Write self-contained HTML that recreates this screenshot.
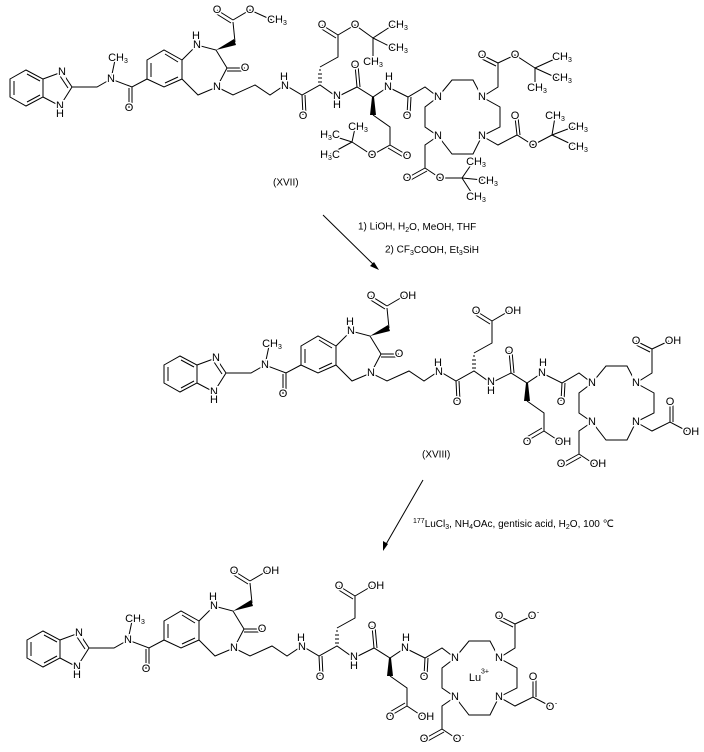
<!DOCTYPE html>
<html><head><meta charset="utf-8"><style>
html,body{margin:0;padding:0;background:#fff}
svg{display:block}
.b line,.b polyline,.b polygon{stroke:#000;stroke-width:1;fill:none}
.b polygon.w{fill:#000;stroke:none}
text{font-family:"Liberation Sans",Arial,sans-serif;font-size:11px;fill:#000;stroke:#fff;stroke-width:3px;paint-order:stroke;text-anchor:middle;dominant-baseline:central}
text.r{text-anchor:start;stroke:none;font-size:10px}
.s{font-size:7px}
</style></head><body>
<svg width="704" height="752" viewBox="0 0 704 752" xmlns="http://www.w3.org/2000/svg">

<!-- ===== Molecule 1 ===== -->
<g class="b" transform="translate(0,0)">
<polygon points="10,79 26,70 43,79 43,97 26,106 10,97"/>
<line x1="14" y1="95" x2="14" y2="81"/><line x1="27" y1="74" x2="40" y2="81"/><line x1="27" y1="102" x2="40" y2="95"/>
<polyline points="43,79 62,72 72,87 60,106 43,97"/><line x1="60" y1="76" x2="68" y2="88"/>
<polyline points="72,87 97,87 111,79 132,87 147,79"/><line x1="111" y1="79" x2="115" y2="60"/>
<line x1="132" y1="87" x2="132" y2="108"/><line x1="129" y1="88" x2="129" y2="108"/>
<polygon points="147,60 164,50 182,60 182,79 164,87 147,79"/>
<line x1="151" y1="63" x2="151" y2="77"/><line x1="165" y1="54" x2="178" y2="62"/><line x1="165" y1="83" x2="178" y2="77"/>
<polyline points="182,60 197,45 216,50 227,68 217,87 198,95 182,79"/>
<line x1="227" y1="68" x2="245" y2="68"/><line x1="227" y1="71" x2="245" y2="71"/>
<polygon class="w" points="216,50 234,39 236,45"/>
<line x1="235" y1="42" x2="233" y2="22"/>
<polyline points="217,87 233,95 255,85 270,95 285,85 302,95 320,85 337,97 357,87 373,97 388,87 408,97 425,87 438,97"/>
<line x1="302" y1="95" x2="303" y2="115"/><line x1="305" y1="95" x2="306" y2="115"/>
<line x1="357" y1="87" x2="355" y2="65"/><line x1="360" y1="87" x2="358" y2="65"/>
<line x1="408" y1="97" x2="407" y2="115"/><line x1="411" y1="97" x2="410" y2="115"/>
<line x1="318" y1="82" x2="322" y2="82"/><line x1="318" y1="78" x2="322" y2="78"/><line x1="318" y1="74" x2="322" y2="74"/><line x1="319" y1="70" x2="321" y2="70"/>
<polyline points="320,67 338,57 338,35"/>
<polygon class="w" points="372,97 374,97 376,115 370,115"/>
<polyline points="373,115 390,127 390,145"/>
<polygon points="438,97 452,80 473,80 482,97 500,107 500,127 482,136 473,154 452,154 438,136 425,127 425,107"/>
<line x1="233" y1="20" x2="217" y2="10"/><line x1="231" y1="23" x2="215" y2="13"/><polyline points="233,20 250,10 272,20"/>
<line x1="338" y1="35" x2="322" y2="25"/><line x1="336" y1="38" x2="320" y2="28"/><polyline points="338,35 355,25 373,38"/>
<line x1="373" y1="38" x2="393" y2="25"/><line x1="373" y1="38" x2="393" y2="48"/><line x1="373" y1="38" x2="373" y2="60"/>
<line x1="390" y1="145" x2="407" y2="155"/><line x1="388" y1="148" x2="405" y2="158"/><polyline points="390,145 372,155 352,142"/>
<line x1="352" y1="142" x2="355" y2="128"/><line x1="352" y1="142" x2="330" y2="135"/><line x1="352" y1="142" x2="330" y2="154"/>
<polyline points="482,97 498,87 498,63"/><line x1="498" y1="63" x2="482" y2="55"/><line x1="496" y1="66" x2="480" y2="58"/><polyline points="498,63 515,55 535,68"/>
<line x1="535" y1="68" x2="557" y2="58"/><line x1="535" y1="68" x2="557" y2="78"/><line x1="535" y1="68" x2="535" y2="87"/>
<polyline points="482,136 498,145 517,135 533,145 552,135"/><line x1="517" y1="135" x2="515" y2="117"/><line x1="520" y1="135" x2="518" y2="117"/>
<line x1="552" y1="135" x2="555" y2="117"/><line x1="552" y1="135" x2="573" y2="127"/><line x1="552" y1="135" x2="573" y2="145"/>
<polyline points="438,136 425,145 425,168"/><line x1="425" y1="168" x2="407" y2="178"/><line x1="427" y1="171" x2="409" y2="181"/>
<polyline points="425,168 440,178 462,178"/><line x1="462" y1="178" x2="473" y2="162"/><line x1="462" y1="178" x2="483" y2="180"/><line x1="462" y1="178" x2="473" y2="195"/>
</g>
<g>
<text x="62" y="72">N</text><text x="60" y="106">N</text><text x="60" y="114">H</text>
<text x="111" y="79">N</text><text x="118" y="58">CH<tspan class="s" dy="3">3</tspan></text>
<text x="129" y="108">O</text><text x="197" y="45">N</text><text x="196" y="36">H</text>
<text x="245" y="68">O</text><text x="217" y="87">N</text>
<text x="217" y="10">O</text><text x="250" y="10">O</text><text x="277" y="20">CH<tspan class="s" dy="3">3</tspan></text>
<text x="285" y="86">N</text><text x="284" y="77">H</text><text x="303" y="116">O</text>
<text x="322" y="25">O</text><text x="355" y="25">O</text>
<text x="398" y="25">CH<tspan class="s" dy="3">3</tspan></text><text x="398" y="48">CH<tspan class="s" dy="3">3</tspan></text><text x="373" y="62">CH<tspan class="s" dy="3">3</tspan></text>
<text x="337" y="96">N</text><text x="337" y="105">H</text><text x="355" y="65">O</text>
<text x="388" y="87">N</text><text x="389" y="77">H</text><text x="407" y="116">O</text>
<text x="407" y="156">O</text><text x="372" y="155">O</text>
<text x="358" y="127">CH<tspan class="s" dy="3">3</tspan></text><text x="330" y="135">H<tspan class="s" dy="3">3</tspan><tspan dy="-3">C</tspan></text><text x="330" y="155">H<tspan class="s" dy="3">3</tspan><tspan dy="-3">C</tspan></text>
<text x="438" y="97">N</text><text x="482" y="97">N</text><text x="482" y="136">N</text><text x="438" y="136">N</text>
<text x="482" y="55">O</text><text x="515" y="55">O</text>
<text x="562" y="57">CH<tspan class="s" dy="3">3</tspan></text><text x="562" y="78">CH<tspan class="s" dy="3">3</tspan></text><text x="537" y="88">CH<tspan class="s" dy="3">3</tspan></text>
<text x="515" y="116">O</text><text x="533" y="145">O</text>
<text x="555" y="116">CH<tspan class="s" dy="3">3</tspan></text><text x="578" y="127">CH<tspan class="s" dy="3">3</tspan></text><text x="578" y="147">CH<tspan class="s" dy="3">3</tspan></text>
<text x="407" y="178">O</text><text x="440" y="178">O</text>
<text x="476" y="162">CH<tspan class="s" dy="3">3</tspan></text><text x="488" y="181">CH<tspan class="s" dy="3">3</tspan></text><text x="476" y="197">CH<tspan class="s" dy="3">3</tspan></text>
</g>
<text class="r" x="273" y="183">(XVII)</text>

<!-- arrow 1 -->
<line x1="323" y1="215" x2="376" y2="267" stroke="#000" stroke-width="1"/>
<polygon points="379,270 370,266 374,262" fill="#000"/>
<text class="r" x="358" y="227">1) LiOH, H<tspan class="s" dy="3">2</tspan><tspan dy="-3">O, MeOH, THF</tspan></text>
<text class="r" x="385" y="250">2) CF<tspan class="s" dy="3">3</tspan><tspan dy="-3">COOH, Et</tspan><tspan class="s" dy="3">3</tspan><tspan dy="-3">SiH</tspan></text>

<!-- ===== Molecule 2 ===== -->
<g transform="translate(154,286)">
<g class="b">
<polygon points="10,79 26,70 43,79 43,97 26,106 10,97"/>
<line x1="14" y1="95" x2="14" y2="81"/><line x1="27" y1="74" x2="40" y2="81"/><line x1="27" y1="102" x2="40" y2="95"/>
<polyline points="43,79 62,72 72,87 60,106 43,97"/><line x1="60" y1="76" x2="68" y2="88"/>
<polyline points="72,87 97,87 111,79 132,87 147,79"/><line x1="111" y1="79" x2="115" y2="60"/>
<line x1="132" y1="87" x2="132" y2="108"/><line x1="129" y1="88" x2="129" y2="108"/>
<polygon points="147,60 164,50 182,60 182,79 164,87 147,79"/>
<line x1="151" y1="63" x2="151" y2="77"/><line x1="165" y1="54" x2="178" y2="62"/><line x1="165" y1="83" x2="178" y2="77"/>
<polyline points="182,60 197,45 216,50 227,68 217,87 198,95 182,79"/>
<line x1="227" y1="68" x2="245" y2="68"/><line x1="227" y1="71" x2="245" y2="71"/>
<polygon class="w" points="216,50 234,39 236,45"/>
<line x1="235" y1="42" x2="233" y2="22"/>
<polyline points="217,87 233,95 255,85 270,95 285,85 302,95 320,85 337,97 357,87 373,97 388,87 408,97 425,87 438,97"/>
<line x1="302" y1="95" x2="303" y2="115"/><line x1="305" y1="95" x2="306" y2="115"/>
<line x1="357" y1="87" x2="355" y2="65"/><line x1="360" y1="87" x2="358" y2="65"/>
<line x1="408" y1="97" x2="407" y2="115"/><line x1="411" y1="97" x2="410" y2="115"/>
<line x1="318" y1="82" x2="322" y2="82"/><line x1="318" y1="78" x2="322" y2="78"/><line x1="318" y1="74" x2="322" y2="74"/><line x1="319" y1="70" x2="321" y2="70"/>
<polyline points="320,67 338,57 338,35"/>
<polygon class="w" points="372,97 374,97 376,115 370,115"/>
<polyline points="373,115 390,127 390,145"/>
<polygon points="438,97 452,80 473,80 482,97 500,107 500,127 482,136 473,154 452,154 438,136 425,127 425,107"/>
<line x1="233" y1="20" x2="217" y2="10"/><line x1="231" y1="23" x2="215" y2="13"/><line x1="233" y1="20" x2="250" y2="10"/>
<line x1="338" y1="35" x2="322" y2="25"/><line x1="336" y1="38" x2="320" y2="28"/><line x1="338" y1="35" x2="355" y2="25"/>
<line x1="390" y1="145" x2="373" y2="155"/><line x1="388" y1="142" x2="371" y2="152"/><line x1="390" y1="145" x2="405" y2="155"/>
<polyline points="482,97 498,87 498,63"/><line x1="498" y1="63" x2="482" y2="55"/><line x1="496" y1="66" x2="480" y2="58"/><line x1="498" y1="63" x2="515" y2="55"/>
<polyline points="482,136 498,145 516,136 533,145"/><line x1="516" y1="136" x2="516" y2="117"/><line x1="519" y1="136" x2="519" y2="117"/>
<polyline points="438,136 425,145 425,168"/><line x1="425" y1="168" x2="407" y2="178"/><line x1="427" y1="171" x2="409" y2="181"/><line x1="425" y1="168" x2="440" y2="178"/>
</g>
<text x="62" y="72">N</text><text x="60" y="106">N</text><text x="60" y="114">H</text>
<text x="111" y="79">N</text><text x="118" y="58">CH<tspan class="s" dy="3">3</tspan></text>
<text x="129" y="108">O</text><text x="197" y="45">N</text><text x="196" y="36">H</text>
<text x="245" y="68">O</text><text x="217" y="87">N</text>
<text x="217" y="10">O</text><text x="254" y="10">OH</text>
<text x="285" y="86">N</text><text x="284" y="77">H</text><text x="303" y="116">O</text>
<text x="322" y="25">O</text><text x="359" y="25">OH</text>
<text x="337" y="96">N</text><text x="337" y="105">H</text><text x="355" y="65">O</text>
<text x="388" y="87">N</text><text x="389" y="77">H</text><text x="407" y="116">O</text>
<text x="373" y="156">O</text><text x="409" y="156">OH</text>
<text x="438" y="97">N</text><text x="482" y="97">N</text><text x="482" y="136">N</text><text x="438" y="136">N</text>
<text x="482" y="55">O</text><text x="519" y="55">OH</text>
<text x="516" y="116">O</text><text x="537" y="146">OH</text>
<text x="407" y="178">O</text><text x="444" y="178">OH</text>
</g>
<text class="r" x="422" y="455">(XVIII)</text>

<!-- arrow 2 -->
<line x1="423" y1="480" x2="385" y2="546" stroke="#000" stroke-width="1"/>
<polygon points="383,551 383,541 388,544" fill="#000"/>
<text class="r" x="413" y="524"><tspan class="s" dy="-3">177</tspan><tspan dy="3">LuCl</tspan><tspan class="s" dy="3">3</tspan><tspan dy="-3">, NH</tspan><tspan class="s" dy="3">4</tspan><tspan dy="-3">OAc, gentisic acid, H</tspan><tspan class="s" dy="3">2</tspan><tspan dy="-3">O, 100 ℃</tspan></text>

<!-- ===== Molecule 3 ===== -->
<g transform="translate(17,561)">
<g class="b">
<polygon points="10,79 26,70 43,79 43,97 26,106 10,97"/>
<line x1="14" y1="95" x2="14" y2="81"/><line x1="27" y1="74" x2="40" y2="81"/><line x1="27" y1="102" x2="40" y2="95"/>
<polyline points="43,79 62,72 72,87 60,106 43,97"/><line x1="60" y1="76" x2="68" y2="88"/>
<polyline points="72,87 97,87 111,79 132,87 147,79"/><line x1="111" y1="79" x2="115" y2="60"/>
<line x1="132" y1="87" x2="132" y2="108"/><line x1="129" y1="88" x2="129" y2="108"/>
<polygon points="147,60 164,50 182,60 182,79 164,87 147,79"/>
<line x1="151" y1="63" x2="151" y2="77"/><line x1="165" y1="54" x2="178" y2="62"/><line x1="165" y1="83" x2="178" y2="77"/>
<polyline points="182,60 197,45 216,50 227,68 217,87 198,95 182,79"/>
<line x1="227" y1="68" x2="245" y2="68"/><line x1="227" y1="71" x2="245" y2="71"/>
<polygon class="w" points="216,50 234,39 236,45"/>
<line x1="235" y1="42" x2="233" y2="22"/>
<polyline points="217,87 233,95 255,85 270,95 285,85 302,95 320,85 337,97 357,87 373,97 388,87 408,97 425,87 438,97"/>
<line x1="302" y1="95" x2="303" y2="115"/><line x1="305" y1="95" x2="306" y2="115"/>
<line x1="357" y1="87" x2="355" y2="65"/><line x1="360" y1="87" x2="358" y2="65"/>
<line x1="408" y1="97" x2="407" y2="115"/><line x1="411" y1="97" x2="410" y2="115"/>
<line x1="318" y1="82" x2="322" y2="82"/><line x1="318" y1="78" x2="322" y2="78"/><line x1="318" y1="74" x2="322" y2="74"/><line x1="319" y1="70" x2="321" y2="70"/>
<polyline points="320,67 338,57 338,35"/>
<polygon class="w" points="372,97 374,97 376,115 370,115"/>
<polyline points="373,115 390,127 390,145"/>
<polygon points="438,97 452,80 473,80 482,97 500,107 500,127 482,136 473,154 452,154 438,136 425,127 425,107"/>
<line x1="233" y1="20" x2="217" y2="10"/><line x1="231" y1="23" x2="215" y2="13"/><line x1="233" y1="20" x2="250" y2="10"/>
<line x1="338" y1="35" x2="322" y2="25"/><line x1="336" y1="38" x2="320" y2="28"/><line x1="338" y1="35" x2="355" y2="25"/>
<line x1="390" y1="145" x2="373" y2="155"/><line x1="388" y1="142" x2="371" y2="152"/><line x1="390" y1="145" x2="405" y2="155"/>
<polyline points="482,97 498,87 498,63"/><line x1="498" y1="63" x2="482" y2="55"/><line x1="496" y1="66" x2="480" y2="58"/><line x1="498" y1="63" x2="515" y2="55"/>
<polyline points="482,136 498,145 516,136 533,145"/><line x1="516" y1="136" x2="516" y2="117"/><line x1="519" y1="136" x2="519" y2="117"/>
<polyline points="438,136 425,145 425,168"/><line x1="425" y1="168" x2="407" y2="178"/><line x1="427" y1="171" x2="409" y2="181"/><line x1="425" y1="168" x2="440" y2="178"/>
</g>
<text x="62" y="72">N</text><text x="60" y="106">N</text><text x="60" y="114">H</text>
<text x="111" y="79">N</text><text x="118" y="58">CH<tspan class="s" dy="3">3</tspan></text>
<text x="129" y="108">O</text><text x="197" y="45">N</text><text x="196" y="36">H</text>
<text x="245" y="68">O</text><text x="217" y="87">N</text>
<text x="217" y="10">O</text><text x="254" y="10">OH</text>
<text x="285" y="86">N</text><text x="284" y="77">H</text><text x="303" y="116">O</text>
<text x="322" y="25">O</text><text x="359" y="25">OH</text>
<text x="337" y="96">N</text><text x="337" y="105">H</text><text x="355" y="65">O</text>
<text x="388" y="87">N</text><text x="389" y="77">H</text><text x="407" y="116">O</text>
<text x="373" y="156">O</text><text x="409" y="156">OH</text>
<text x="438" y="97">N</text><text x="482" y="97">N</text><text x="482" y="136">N</text><text x="438" y="136">N</text>
<text x="482" y="55">O</text><text x="515" y="55">O</text><text class="s" x="521" y="52">-</text>
<text x="516" y="116">O</text><text x="533" y="146">O</text><text class="s" x="539" y="143">-</text>
<text x="407" y="178">O</text><text x="440" y="178">O</text><text class="s" x="446" y="175">-</text>
<text x="458" y="117">Lu</text><text class="s" x="468" y="111">3+</text>
</g>
</svg>
</body></html>
